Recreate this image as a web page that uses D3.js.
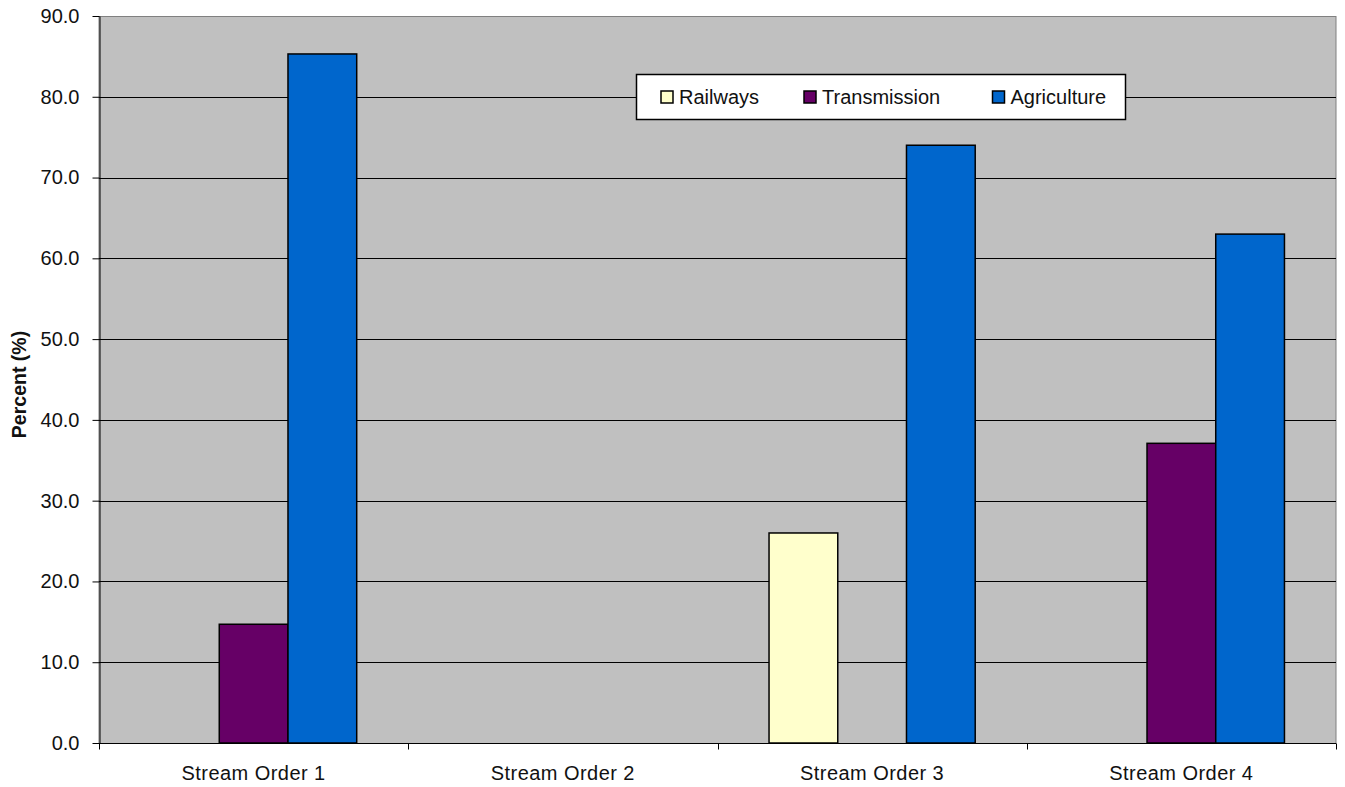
<!DOCTYPE html>
<html>
<head>
<meta charset="utf-8">
<script src="https://cdn.jsdelivr.net/npm/d3@7"></script>
<style>
  html, body { margin: 0; padding: 0; background: #fff; }
  svg { display: block; font-family: "Liberation Sans", Arial, sans-serif; }
</style>
</head>
<body>
<svg id="chart" width="1345" height="787"></svg>
<script>
// Share of stream crossings by disturbance type, per stream order
const categories = ["Stream Order 1", "Stream Order 2", "Stream Order 3", "Stream Order 4"];
const seriesNames = ["Railways", "Transmission", "Agriculture"];
const railways     = [0, 0, 26.0, 0];
const transmission = [14.7, 0, 0, 37.1];
const agriculture  = [85.3, 0, 74.0, 63.0];
const seriesColors = ["#FFFFCC", "#660066", "#0066CC"];
const yTicks = [0, 10, 20, 30, 40, 50, 60, 70, 80, 90];

const seriesValues = [railways, transmission, agriculture];
const FONT = 20;

const svg = d3.select("#chart");
const margin = { left: 99, right: 9, top: 16, bottom: 44 };
const W = 1345, H = 787;
const x0 = margin.left, x1 = W - margin.right;
const y0 = H - margin.bottom, y1 = margin.top;

const x = d3.scaleBand().domain(categories).range([x0, x1]).paddingInner(0).paddingOuter(0);
// three bars per category with a 150% gap split on both sides
const xs = d3.scaleBand().domain(seriesNames).range([0, x.bandwidth()])
  .paddingInner(0).paddingOuter(0.75);
const y = d3.scaleLinear().domain([0, 90]).range([y0, y1]);

// plot background
svg.append("rect")
  .attr("x", x0).attr("y", y1 + 0.5).attr("width", x1 - x0).attr("height", y0 - y1)
  .attr("fill", "#C0C0C0").attr("stroke", "#808080").attr("stroke-width", 1);

// gridlines
svg.append("g").selectAll("line").data(yTicks.filter(d => d > 0 && d < 90)).join("line")
  .attr("x1", x0).attr("x2", x1)
  .attr("y1", d => Math.round(y(d)) + 0.5).attr("y2", d => Math.round(y(d)) + 0.5)
  .attr("stroke", "#000").attr("stroke-width", 1);

// bars
const groups = svg.append("g").selectAll("g").data(seriesNames).join("g")
  .attr("fill", (d, i) => seriesColors[i]);
groups.selectAll("rect")
  .data((s, i) => categories.map((c, j) => ({ c, s, v: seriesValues[i][j] })).filter(d => d.v > 0))
  .join("rect")
  .attr("x", d => x(d.c) + xs(d.s))
  .attr("y", d => y(d.v))
  .attr("width", xs.bandwidth())
  .attr("height", d => y0 - y(d.v))
  .attr("stroke", "#000").attr("stroke-width", 1.5);

// y axis
const yAxis = d3.axisLeft(y).tickValues(yTicks).tickFormat(d3.format(".1f"))
  .tickSizeInner(7).tickSizeOuter(0).tickPadding(13);
const gy = svg.append("g").attr("transform", `translate(${x0 + 0.5},0)`).call(yAxis)
  .attr("font-size", FONT).attr("font-family", "Liberation Sans, Arial, sans-serif");
gy.select(".domain").attr("stroke", "#000");
gy.selectAll(".tick line").attr("stroke", "#000");
gy.selectAll("text").attr("fill", "#111");

// x axis: ticks at category boundaries, labels centred
const gx = svg.append("g").attr("transform", `translate(0,${y0 + 0.5})`);
gx.append("line").attr("x1", x0).attr("x2", x1).attr("stroke", "#000");
const bounds = categories.map(c => x(c)).concat([x1]);
gx.selectAll("line.tk").data(bounds).join("line").attr("class", "tk")
  .attr("x1", d => Math.round(d) + 0.5).attr("x2", d => Math.round(d) + 0.5)
  .attr("y1", 0).attr("y2", 6).attr("stroke", "#000");
gx.selectAll("text").data(categories).join("text")
  .attr("x", d => x(d) + x.bandwidth() / 2).attr("y", 36)
  .attr("text-anchor", "middle").attr("font-size", FONT).attr("fill", "#111")
  .attr("letter-spacing", 0.45)
  .text(d => d);

// y axis title
svg.append("text")
  .attr("transform", `translate(26,${(y0 + y1) / 2 + 5}) rotate(-90)`)
  .attr("text-anchor", "middle").attr("font-size", 19.5).attr("font-weight", "bold")
  .attr("fill", "#111")
  .text("Percent (%)");

// legend
const lg = svg.append("g").attr("transform", "translate(636.5,74.5)");
lg.append("rect").attr("width", 489).attr("height", 45)
  .attr("fill", "#fff").attr("stroke", "#000").attr("stroke-width", 1.5);
const legendX = [24.5, 167.5, 356];
const items = lg.selectAll("g").data(seriesNames).join("g")
  .attr("transform", (d, i) => `translate(${legendX[i]},0)`);
items.append("rect").attr("x", 0).attr("y", 16.5).attr("width", 12).attr("height", 12)
  .attr("fill", (d, i) => seriesColors[i]).attr("stroke", "#000").attr("stroke-width", 1.5);
items.append("text").attr("x", 18).attr("y", 29).attr("font-size", FONT).attr("fill", "#111")
  .text(d => d);
</script>
</body>
</html>
